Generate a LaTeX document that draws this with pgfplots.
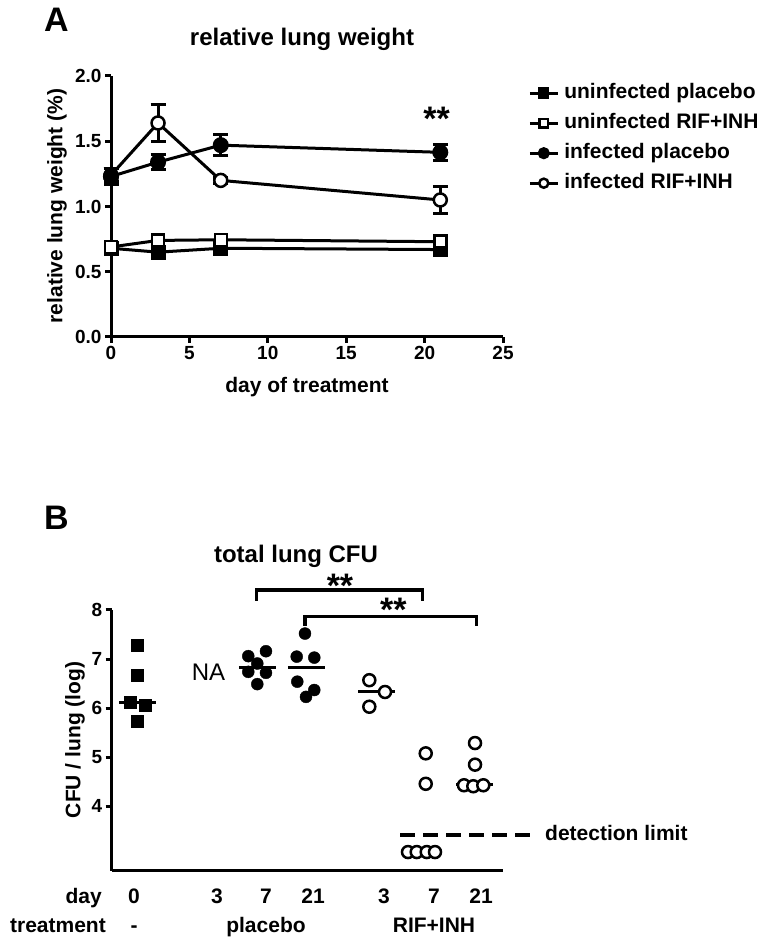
\documentclass[border=0pt]{standalone}
\usepackage{pgfplots}
\pgfplotsset{compat=1.18}
\usepackage{fontspec}
\setmainfont{Liberation Sans}
\newcommand{\fs}[1]{\fontsize{#1}{#1}\selectfont}

\begin{document}
\begin{tikzpicture}[x=1pt,y=1pt]
\path (0,0) rectangle (768,937);

\pgfplotsset{
 prism/.style={
   scale only axis,
   axis lines=left,
   axis line style={line width=3pt,-},
   every tick/.style={line width=3pt, black},
   tick align=outside,
   major tick length=6pt,
   tick label style={font=\bfseries\fs{19}},
   /pgf/number format/assume math mode=true,
   clip=false,
 },
 uinfp/.style={black, line width=3pt, mark=square*, mark size=6pt},
 uinfr/.style={black, line width=3pt, mark=square*, mark size=6pt, mark options={fill=white, line width=2.5pt}},
 infp/.style={black, line width=3pt, mark=*, mark size=6.5pt},
 infr/.style={black, line width=3pt, mark=*, mark size=6.5pt, mark options={fill=white, line width=2.5pt}},
 eb/.style={error bars/y dir=both, error bars/y explicit,
    error bars/error bar style={line width=3pt, solid},
    error bars/error mark options={rotate=90, mark size=7.5pt, line width=3pt}},
}

% ---------------- Panel A ----------------
\begin{axis}[prism,
  at={(111pt,600pt)}, anchor=south west,
  width=392pt, height=261pt,
  xmin=0, xmax=25, ymin=0, ymax=2,
  xtick={0,5,10,15,20,25},
  ytick={0,0.5,1,1.5,2},
  yticklabel style={/pgf/number format/.cd, fixed, fixed zerofill, precision=1},
  legend style={draw=none, fill=none, at={(axis description cs:1.064,0.977)}, anchor=north west,
     font=\bfseries\fs{21}, row sep=8pt, column sep=4pt, inner sep=0pt,
     nodes={inner sep=1pt, text height=15pt, text depth=5pt}},
  legend cell align=left,
  legend image code/.code={\draw[#1, every mark/.append style={scale=0.7}, mark repeat=2, mark phase=2] plot coordinates {(0pt,0pt) (14pt,0pt) (28pt,0pt)};},
]
\addplot[uinfp] coordinates {(0,0.68) (3,0.65) (7,0.68) (21,0.67)};
\addlegendentry{uninfected placebo}
\addplot[uinfr] coordinates {(0,0.69) (3,0.74) (7,0.745) (21,0.73)};
\addlegendentry{uninfected RIF+INH}
\addplot[infp, eb] coordinates {(0,1.23) +- (0,0.06) (3,1.34) +- (0,0.06) (7,1.47) +- (0,0.08) (21,1.415) +- (0,0.06)};
\addlegendentry{infected placebo}
\addplot[infr, eb] coordinates {(0,1.24) +- (0,0.05) (3,1.64) +- (0,0.14) (7,1.20) +- (0,0.02) (21,1.05) +- (0,0.10)};
\addlegendentry{infected RIF+INH}
\addplot[infp, only marks, forget plot] coordinates {(0,1.23)};
\end{axis}

% ---------------- Panel B ----------------
\begin{axis}[prism,
  at={(111.7pt,66.3pt)}, anchor=south west,
  width=391.3pt, height=260.7pt,
  xmin=-0.53, xmax=7.455, ymin=2.69, ymax=8,
  xtick=\empty,
  ytick={4,5,6,7,8},
]
% uninfected day 0
\addplot[only marks, mark=square*, mark size=6pt, black] coordinates {(0,7.28) (0,6.67) (-0.157,6.12) (0.163,6.07) (0,5.73)};
% placebo day 7
\addplot[only marks, mark=*, mark size=6pt, black] coordinates {(2.257,7.06) (2.618,7.16) (2.441,6.91) (2.257,6.74) (2.618,6.72) (2.441,6.49)};
% placebo day 21
\addplot[only marks, mark=*, mark size=6pt, black] coordinates {(3.414,7.52) (3.245,7.05) (3.604,7.03) (3.257,6.54) (3.604,6.37) (3.435,6.23)};
% RIF+INH day 3
\addplot[only marks, mark=*, mark size=6pt, black, mark options={fill=white, line width=2.5pt}] coordinates {(4.727,6.57) (5.047,6.33) (4.727,6.03)};
% RIF+INH day 7
\addplot[only marks, mark=*, mark size=6pt, black, mark options={fill=white, line width=2.5pt}] coordinates {(5.878,5.08) (5.878,4.46) (5.516,3.07) (5.694,3.07) (5.898,3.07) (6.067,3.07)};
% RIF+INH day 21
\addplot[only marks, mark=*, mark size=6pt, black, mark options={fill=white, line width=2.5pt}] coordinates {(6.884,5.29) (6.884,4.85) (6.659,4.43) (6.849,4.41) (7.053,4.43)};
% medians
\addplot[black, line width=3pt] coordinates {(-0.38,6.11) (0.38,6.11)};
\addplot[black, line width=3pt] coordinates {(2.065,6.83) (2.825,6.83)};
\addplot[black, line width=3pt] coordinates {(3.065,6.83) (3.825,6.83)};
\addplot[black, line width=3pt] coordinates {(4.50,6.33) (5.26,6.33)};
\addplot[black, line width=3pt] coordinates {(6.50,4.45) (7.26,4.45)};
% detection limit
\addplot[black, line width=4pt, dash pattern=on 15pt off 8pt] coordinates {(5.353,3.41) (8.07,3.41)};
\node[font=\fs{24}] at (axis cs:1.445,6.74) {NA};
\end{axis}

% brackets
\draw[line width=3.5pt] (256.7,336) -- (256.7,347) -- (422.3,347) -- (422.3,336);
\draw[line width=3.5pt] (305,311) -- (305,320.3) -- (476.7,320.3) -- (476.7,311);
\node[font=\bfseries\fs{34}, anchor=base, inner sep=0pt] at (340,339.5) {**};
\node[font=\bfseries\fs{34}, anchor=base, inner sep=0pt] at (393.3,315) {**};
\node[font=\bfseries\fs{34}, anchor=base, inner sep=0pt] at (436.7,806) {**};

% panel labels and titles
\node[font=\bfseries\fs{34}, anchor=base, inner sep=0pt] at (56.5,905) {A};
\node[font=\bfseries\fs{34}, anchor=base, inner sep=0pt] at (56.5,407) {B};
\node[font=\bfseries\fs{24}, anchor=base, inner sep=0pt] at (302,891) {relative lung weight};
\node[font=\bfseries\fs{24}, anchor=base, inner sep=0pt] at (296,374) {total lung CFU};
\node[font=\bfseries\fs{21}, rotate=90, inner sep=0pt] at (57,731) {relative lung weight (\%)};
\node[font=\bfseries\fs{21}, anchor=base, inner sep=0pt] at (307,544) {day of treatment};
\node[font=\bfseries\fs{21}, rotate=90, inner sep=0pt] at (75,197) {CFU / lung (log)};
\node[font=\bfseries\fs{21}, anchor=base west, inner sep=0pt] at (545,96) {detection limit};

% bottom table labels
\begin{scope}[every node/.style={font=\bfseries\fs{21}, inner sep=0pt}]
\node[anchor=base east] at (102,33) {day};
\node[anchor=base] at (134,33) {0};
\node[anchor=base] at (217,33) {3};
\node[anchor=base] at (266,33) {7};
\node[anchor=base] at (313,33) {21};
\node[anchor=base] at (384,33) {3};
\node[anchor=base] at (434,33) {7};
\node[anchor=base] at (481,33) {21};
\node[anchor=base east] at (106,5) {treatment};
\node[anchor=base] at (134,5) {-};
\node[anchor=base] at (266,5) {placebo};
\node[anchor=base] at (434,5) {RIF+INH};
\end{scope}
\end{tikzpicture}
\end{document}
